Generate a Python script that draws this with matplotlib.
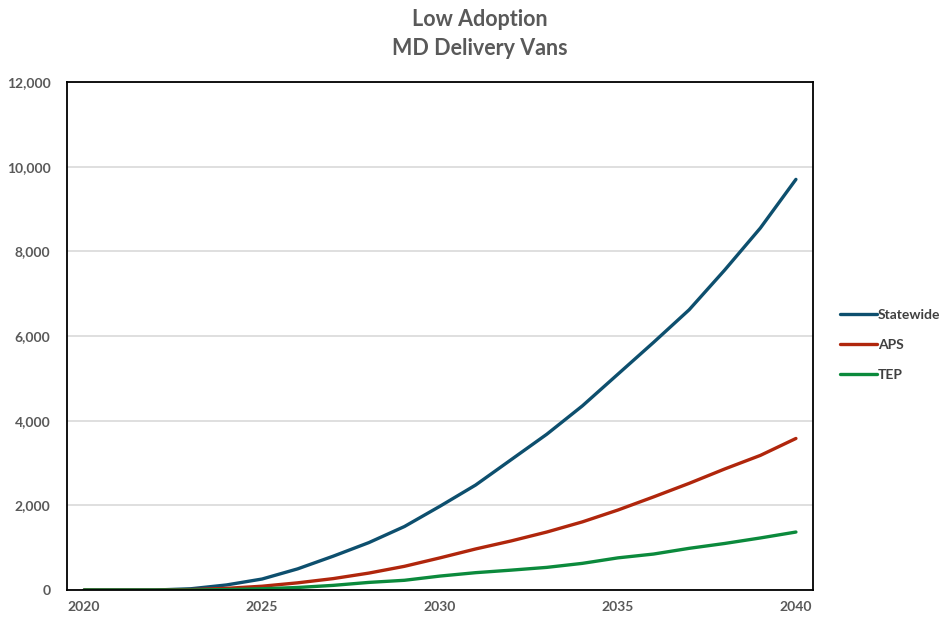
import matplotlib.pyplot as plt
from matplotlib.ticker import FuncFormatter

years = list(range(2020, 2041))
statewide = [0, 0, 0, 30, 120, 260, 500, 800, 1120, 1500, 1980, 2480, 3080, 3680, 4350, 5100, 5850, 6620, 7560, 8550, 9700]
aps = [0, 0, 0, 10, 40, 90, 170, 270, 400, 560, 760, 970, 1160, 1370, 1610, 1890, 2200, 2520, 2860, 3180, 3580]
tep = [0, 0, 0, 0, 10, 30, 60, 110, 180, 230, 330, 410, 470, 535, 630, 760, 850, 985, 1100, 1230, 1370]

plt.rcParams['font.family'] = ['Lato', 'DejaVu Sans']
grey = '#595959'

fig = plt.figure(figsize=(9.48, 6.19), dpi=100)
ax = fig.add_axes([0.0707, 0.0468, 0.7869, 0.8207])

ax.plot(years, statewide, color='#0d4f6e', lw=2.4, label='Statewide', solid_capstyle='round')
ax.plot(years, aps, color='#b0260c', lw=2.4, label='APS', solid_capstyle='round')
ax.plot(years, tep, color='#0b8a3c', lw=2.4, label='TEP', solid_capstyle='round')

ax.set_xlim(2019.52, 2040.48)
ax.set_ylim(0, 12000)
ax.set_xticks([2020, 2025, 2030, 2035, 2040])
ax.set_yticks(range(0, 12001, 2000))
ax.yaxis.set_major_formatter(FuncFormatter(lambda v, p: f'{int(v):,}'))
ax.grid(axis='y', color='#d9d9d9', lw=1.2)
ax.set_axisbelow(True)
ax.tick_params(length=0, labelsize=10, labelcolor=grey)
ax.tick_params(axis='x', pad=8)
ax.tick_params(axis='y', pad=12)
for lab in ax.get_xticklabels() + ax.get_yticklabels():
    lab.set_fontweight('bold')
for s in ax.spines.values():
    s.set_color('black')
    s.set_linewidth(1.3)

fig.suptitle('Low Adoption\nMD Delivery Vans', x=0.506, y=0.985, fontsize=15.5,
             fontweight='bold', color=grey, linespacing=1.45)

leg = ax.legend(loc='center left', bbox_to_anchor=(1.02, 0.482), frameon=False,
                fontsize=10, handlelength=2.6, handletextpad=0.1, labelspacing=1.3)
for t in leg.get_texts():
    t.set_fontweight('bold')
    t.set_color('#404040')

fig.savefig('out.png')
